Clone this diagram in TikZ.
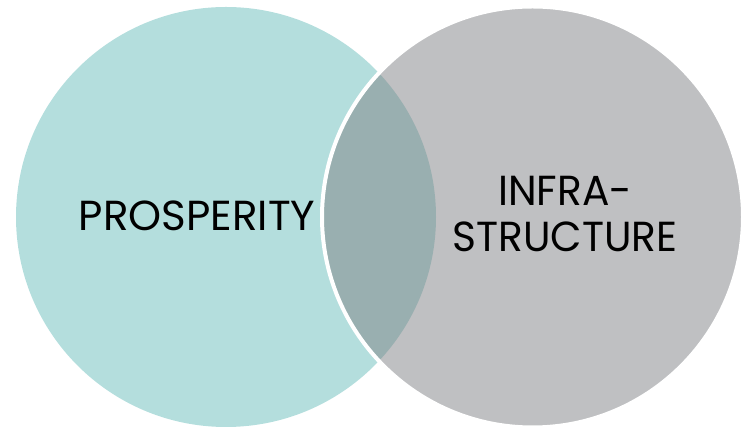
\documentclass[tikz,border=0pt]{standalone}
\usepackage{fontspec}
\setmainfont{Poppins}
\usetikzlibrary{positioning}
\definecolor{tealset}{RGB}{180,222,221}
\definecolor{greyset}{RGB}{191,192,194}
\definecolor{overlapset}{RGB}{153,175,176}

\begin{document}
\begin{tikzpicture}[x=1pt, y=1pt,
        setlabel/.style={font=\fontsize{42}{46}\selectfont, text=black, align=center, inner sep=0pt},
        setline/.style={draw=white, line width=4pt}]
        \useasboundingbox (0,0) rectangle (747,427);
        \coordinate (pc) at (226,210);
        \coordinate (ic) at (532.5,210);
        \fill [tealset] (pc) circle [radius=210];
        \fill [greyset] (ic) circle [radius=210.5];
        \begin{scope}
            \clip (ic) circle [radius=210.5];
            \fill [overlapset] (pc) circle [radius=210];
        \end{scope}
        \draw [setline] (ic) circle [radius=210.5];
        \node [setlabel] (prosperity) at (197,211) {PROSPERITY};
        \node [setlabel, xscale=0.97] (infra) at (565,213) {INFRA-\\STRUCTURE};
    \end{tikzpicture}
\end{document}
